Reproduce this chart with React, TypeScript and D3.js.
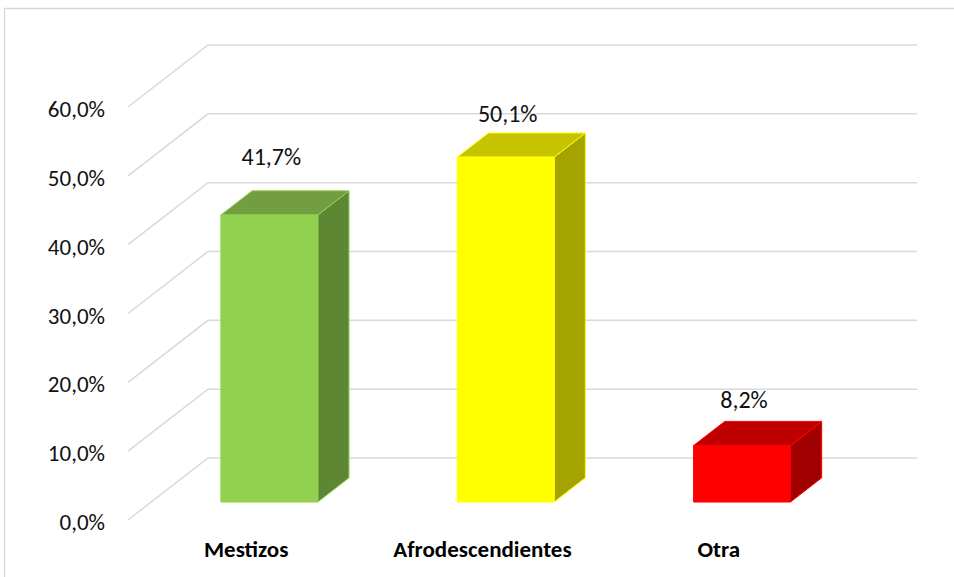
import React from "react";
import * as d3 from "d3";

const categories = ["Mestizos", "Afrodescendientes", "Otra"];
const values = [41.7, 50.1, 8.2];
const valueLabels = ["41,7%", "50,1%", "8,2%"];
const tickValues = [0, 10, 20, 30, 40, 50, 60];
const tickLabels = ["0,0%", "10,0%", "20,0%", "30,0%", "40,0%", "50,0%", "60,0%"];

const frontColors = ["#92D050", "#FFFF00", "#FF0000"];
const topColors = ["#739E3F", "#C6C400", "#C00000"];
const sideColors = ["#5E8733", "#A5A300", "#A00000"];
const labelDy = [-26, -11, -13];

const W = 954;
const H = 577;
const FONT = "Carlito, Calibri, Lato, sans-serif";

// projection parameters
const baseY = 520; // front floor y
const depthDX = 80;
const depthDY = -62;
const zFront = 0.29;
const zBack = 0.68;

export default function App() {
  const x = d3
    .scaleBand<string>()
    .domain(categories)
    .range([128, 837])
    .paddingInner(0.59)
    .paddingOuter(0.295);
  const h = d3.scaleLinear().domain([0, 60]).range([0, 413]);

  const P = (px: number, v: number, z: number): [number, number] => [
    px + depthDX * z,
    baseY + depthDY * z - h(v),
  ];
  const pts = (arr: [number, number][]) => arr.map((p) => p.join(",")).join(" ");

  return (
    <svg
      width={W}
      height={H}
      style={{ position: "absolute", left: 0, top: 0, background: "#fff" }}
    >
      <rect x={4.5} y={8.5} width={960} height={600} fill="#fff" stroke="#D9D9D9" strokeWidth={1.5} />
      {tickValues.map((t, i) => {
        const [fx, fy] = P(128, t, 0);
        const [bx, by] = P(128, t, 1);
        const [ex] = P(837, t, 1);
        return (
          <g key={t}>
            <polyline
              points={pts([[fx, fy], [bx, by], [ex, by]])}
              fill="none"
              stroke="#D9D9D9"
              strokeWidth={1.5}
            />
            <text
              x={105}
              y={fy + 10}
              textAnchor="end"
              fontFamily={FONT}
              fontSize={23}
              fill="#111"
            >
              {tickLabels[i]}
            </text>
          </g>
        );
      })}
      {categories.map((c, i) => {
        const x0 = x(c)!;
        const x1 = x0 + x.bandwidth();
        const v = values[i];
        const front = [P(x0, 0, zFront), P(x1, 0, zFront), P(x1, v, zFront), P(x0, v, zFront)];
        const top = [P(x0, v, zFront), P(x1, v, zFront), P(x1, v, zBack), P(x0, v, zBack)];
        const side = [P(x1, 0, zFront), P(x1, 0, zBack), P(x1, v, zBack), P(x1, v, zFront)];
        const [lx] = P((x0 + x1) / 2, v, zFront);
        const [, ly] = P(x0, v, zBack);
        return (
          <g key={c}>
            <polygon points={pts(side)} fill={sideColors[i]} stroke={frontColors[i]} strokeWidth={1} strokeLinejoin="round" />
            <polygon points={pts(top)} fill={topColors[i]} stroke={frontColors[i]} strokeWidth={1} strokeLinejoin="round" />
            <polygon points={pts(front)} fill={frontColors[i]} stroke={frontColors[i]} strokeWidth={1} strokeLinejoin="round" />
            <text
              x={lx + 2}
              y={ly + labelDy[i]}
              textAnchor="middle"
              fontFamily={FONT}
              fontSize={24}
              fill="#111"
            >
              {valueLabels[i]}
            </text>
            <text
              x={x0 + x.bandwidth() / 2}
              y={557}
              textAnchor="middle"
              fontFamily={FONT}
              fontSize={23}
              fontWeight="bold"
              fill="#000"
            >
              {c}
            </text>
          </g>
        );
      })}
    </svg>
  );
}
